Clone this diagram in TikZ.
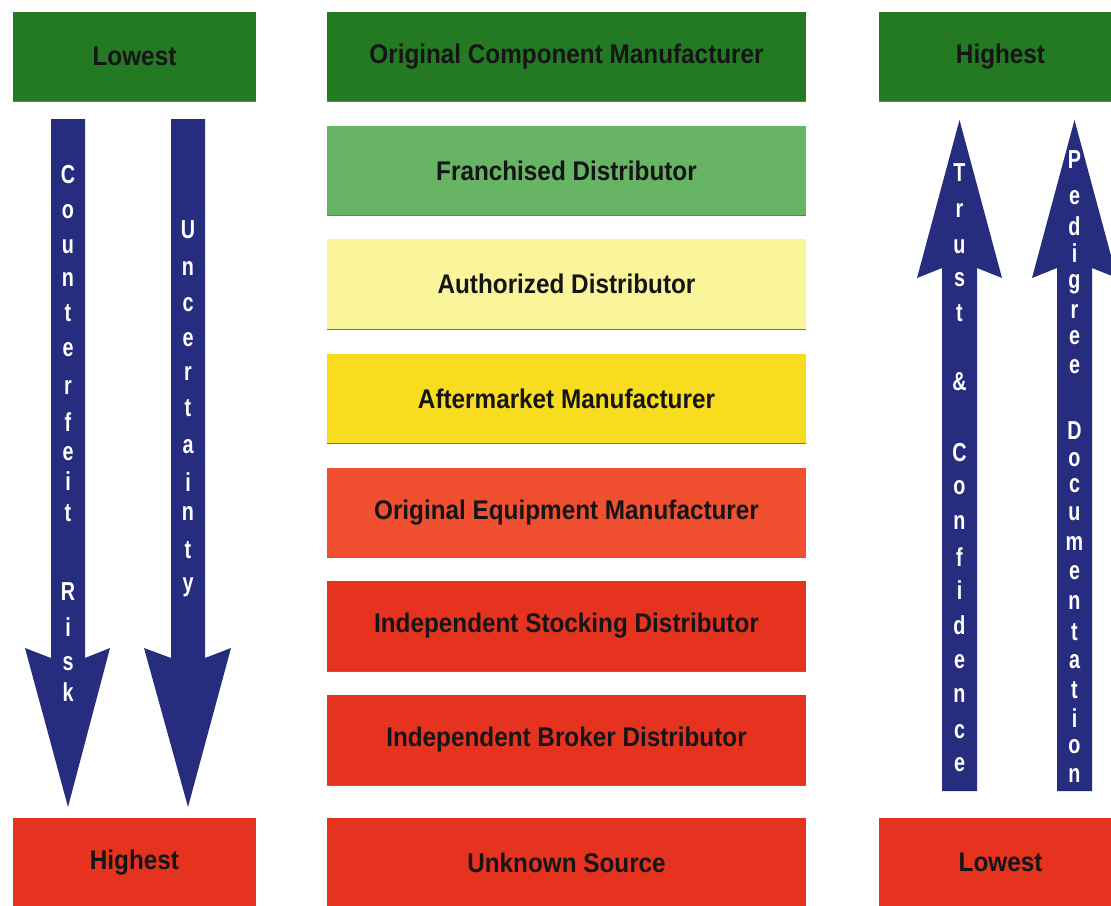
\documentclass[tikz,border=0pt]{standalone}
\usepackage{fontspec}
\newfontfamily\boxfont[FakeStretch=0.9]{Liberation Sans}
\newfontfamily\arrfont[FakeStretch=0.76]{Liberation Sans}
\definecolor{dgreen}{HTML}{237A22}
\definecolor{lgreen}{HTML}{66B464}
\definecolor{pyellow}{HTML}{FAF59B}
\definecolor{yellowb}{HTML}{F8DC1F}
\definecolor{orred}{HTML}{F04F30}
\definecolor{redb}{HTML}{E63320}
\definecolor{navy}{HTML}{262D7E}
\definecolor{boxtext}{HTML}{151515}
\tikzset{
  box/.style={draw=none, inner sep=0pt, minimum height=90, text=boxtext,
    font=\boxfont\bfseries\fontsize{27}{30}\selectfont},
  sidebox/.style={box, minimum width=243},
  midbox/.style={box, minimum width=479},
  edge/.style={draw=black!55, line width=1.2pt},
  arrowbody/.style={fill=navy, draw=none},
  arrtxt/.style={text=white, inner sep=0pt, font=\arrfont\bfseries\fontsize{26}{30}\selectfont}
}
\begin{document}
\begin{tikzpicture}[x=1pt,y=-1pt]
\useasboundingbox (0,0) rectangle (1111,905);
\clip (0,0) rectangle (1111,905);
\fill[white] (0,0) rectangle (1111,905);
% left column
\node[sidebox, fill=dgreen] (lowL) at (134.5,56.5) {Lowest};
\node[sidebox, fill=redb] (highL) at (134.5,862.5) {Highest};
% middle column
\node[midbox, fill=dgreen] (m1) at (566.5,56.5) {Original Component Manufacturer};
\node[midbox, fill=lgreen] (m2) at (566.5,170.5) {Franchised Distributor};
\node[midbox, fill=pyellow] (m3) at (566.5,284) {Authorized Distributor};
\node[midbox, fill=yellowb] (m4) at (566.5,398.5) {Aftermarket Manufacturer};
\node[midbox, fill=orred] (m5) at (566.5,512.5) {Original Equipment Manufacturer};
\node[midbox, fill=redb] (m6) at (566.5,626) {Independent Stocking Distributor};
\node[midbox, fill=redb] (m7) at (566.5,740) {Independent Broker Distributor};
\node[midbox, fill=redb] (m8) at (566.5,862.5) {Unknown Source};
% right column
\node[sidebox, fill=dgreen] (highR) at (1000.5,56.5) {Highest};
\node[sidebox, fill=redb] (lowR) at (1000.5,862.5) {Lowest};
% bottom edges
\foreach \n in {lowL,m1,m2,m3,m4,m5,m6,m7,highR}
  \draw[edge] (\n.south west) -- (\n.south east);
% arrows
\fill[arrowbody] (51,119) -- (85,119) -- (85,658) -- (110,648) -- (68,807) -- (25,648) -- (51,658) -- cycle;
\fill[arrowbody] (171,119) -- (205,119) -- (205,658) -- (231,648) -- (188,807) -- (144,648) -- (171,658) -- cycle;
\fill[arrowbody] (942,791) -- (977,791) -- (977,268) -- (1002,278) -- (959.5,120) -- (917,278) -- (942,268) -- cycle;
\fill[arrowbody] (1057,791) -- (1092,791) -- (1092,268) -- (1117,278) -- (1074.5,120) -- (1032,278) -- (1057,268) -- cycle;
% letters
\foreach \y/\l [count=\i] in {175/C,212/o,247/u,279/n,313/t,350/e,387/r,422/f,454/e,481/i,513/t,592/R,627/i,664/s,692/k}
  \node[arrtxt] (cr\i) at (68,\y) {\l};
\foreach \y/\l [count=\i] in {230/U,268/n,305/c,340/e,373/r,408/t,447/a,482/i,513/n,550/t,587/y}
  \node[arrtxt] (un\i) at (188,\y) {\l};
\foreach \y/\l [count=\i] in {173/T,210/r,247/u,280/s,313/t,382/\&,453/C,488/o,522/n,557/f,590/i,625/d,662/e,695/n,732/c,765/e}
  \node[arrtxt] (tc\i) at (959.5,\y) {\l};
\foreach \y/\l [count=\i] in {160/P,198/e,226/d,253/i,284/g,311/r,338/e,367/e,431/D,460/o,486/c,514/u,543/m,573/e,602/n,632/t,662/a,690/t,718/i,747/o,775/n}
  \node[arrtxt] (pd\i) at (1074.5,\y) {\l};
\end{tikzpicture}
\end{document}
